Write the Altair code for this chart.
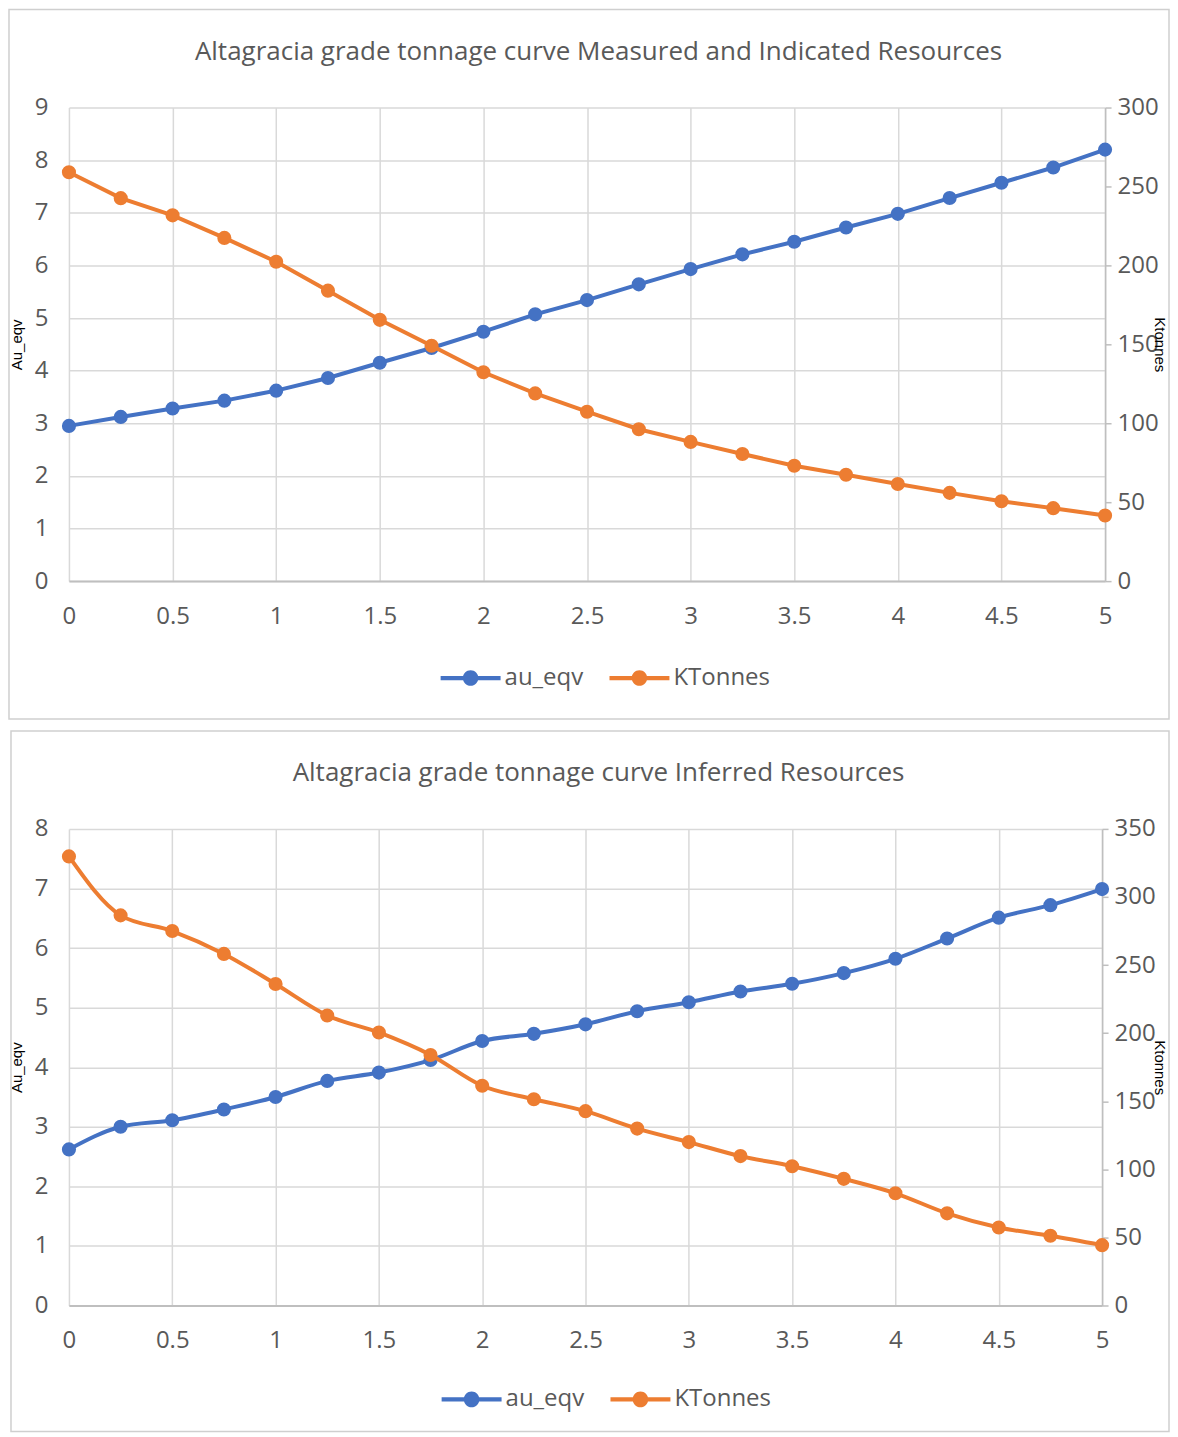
import altair as alt
import pandas as pd

# ---------------- data ----------------
cutoff = [0, 0.25, 0.5, 0.75, 1, 1.25, 1.5, 1.75, 2, 2.25, 2.5,
          2.75, 3, 3.25, 3.5, 3.75, 4, 4.25, 4.5, 4.75, 5]

mi_au = [2.95, 3.12, 3.28, 3.43, 3.62, 3.86, 4.15, 4.43, 4.74, 5.07, 5.34,
         5.64, 5.93, 6.21, 6.45, 6.72, 6.98, 7.28, 7.57, 7.86, 8.20]
mi_kt = [259, 242.6, 231.7, 217.4, 202.3, 184, 165.5, 149.1, 132.3, 118.9, 107.3,
         96.2, 88.2, 80.5, 73.1, 67.4, 61.5, 55.9, 50.6, 46.2, 41.6]

inf_au = [2.62, 3.00, 3.11, 3.29, 3.50, 3.77, 3.91, 4.12, 4.44, 4.56, 4.72,
          4.94, 5.09, 5.27, 5.40, 5.58, 5.82, 6.16, 6.51, 6.72, 6.99]
inf_kt = [329.8, 286.5, 275, 258.2, 236.1, 213, 200.5, 184, 161.4, 151.5, 142.7,
          129.9, 120, 109.7, 102.3, 93, 82.4, 67.7, 57.3, 51.2, 44.3]

x_ticks = [0, 0.5, 1, 1.5, 2, 2.5, 3, 3.5, 4, 4.5, 5]
series_names = ["au_eqv", "KTonnes"]
series_colors = ["#4472C4", "#ED7D31"]

title_top = "Altagracia grade tonnage curve Measured and Indicated Resources"
title_bot = "Altagracia grade tonnage curve Inferred Resources"

FONT = "Open Sans"
GRAY = "#595959"
GRID = "#d9d9d9"
AXISLINE = "#bfbfbf"

LEGEND_PATH = ("M-1,-0.07 L1,-0.07 L1,0.07 L-1,0.07 Z "
               "M-0.26,0 A0.26,0.26 0 1,1 0.26,0 A0.26,0.26 0 1,1 -0.26,0 Z")


def panel(title, au, kt, au_max, kt_max, w, h, interp, pad_l, pad_r, pad_t, pad_b,
          title_dx, legend_x, legend_y):
    df_au = pd.DataFrame({"cutoff": cutoff, "value": au, "series": series_names[0]})
    df_kt = pd.DataFrame({"cutoff": cutoff, "value": kt, "series": series_names[1]})
    one = pd.DataFrame({"k": [0]})

    xenc = alt.X("cutoff:Q", scale=alt.Scale(domain=[0, 5], nice=False),
                 axis=alt.Axis(values=x_ticks, format="~g", title=None,
                               labelFont=FONT, labelFontSize=24, labelColor=GRAY,
                               labelPadding=23, labelFlush=False,
                               ticks=False, tickSize=0,
                               domain=True, domainColor=AXISLINE, domainWidth=2,
                               grid=True, gridColor=GRID, gridWidth=1.5))

    legend = alt.Legend(orient="none", legendX=legend_x, legendY=legend_y,
                        direction="horizontal", title=None,
                        symbolType=LEGEND_PATH, symbolSize=3600,
                        symbolStrokeWidth=0, symbolOpacity=1,
                        labelFont=FONT, labelFontSize=24, labelColor=GRAY,
                        labelOffset=4, columnPadding=26)
    color = alt.Color("series:N",
                      scale=alt.Scale(domain=series_names, range=series_colors),
                      legend=legend)

    ly = alt.Y("value:Q", scale=alt.Scale(domain=[0, au_max], nice=False, zero=True),
               axis=alt.Axis(orient="left", title="Au_eqv", values=list(range(au_max + 1)),
                             labelFont=FONT, labelFontSize=24, labelColor=GRAY,
                             labelPadding=21, ticks=False, tickSize=0, domain=False,
                             grid=True, gridColor=GRID, gridWidth=1.5,
                             titleFont="Liberation Sans", titleFontSize=15,
                             titleFontWeight="normal", titleColor="#000000",
                             titlePadding=10))
    ry = alt.Y("value:Q", scale=alt.Scale(domain=[0, kt_max], nice=False, zero=True),
               axis=alt.Axis(orient="right", title="Ktonnes",
                             values=list(range(0, kt_max + 1, 50)),
                             labelFont=FONT, labelFontSize=24, labelColor=GRAY,
                             labelPadding=6, ticks=True, tickSize=6,
                             tickColor=AXISLINE, tickWidth=1.5,
                             domain=True, domainColor=AXISLINE, domainWidth=1.5,
                             grid=False,
                             titleFont="Liberation Sans", titleFontSize=15,
                             titleFontWeight="normal", titleColor="#000000",
                             titleX=pad_r - 10, titleY=h / 2, titleAngle=90,
                             titleBaseline="middle"))

    left = alt.layer(
        alt.Chart(df_au).mark_line(strokeWidth=4, interpolate=interp,
                                   color=series_colors[0]).encode(x=xenc, y=ly),
        alt.Chart(df_au).mark_point(filled=True, size=200, opacity=1).encode(
            x=xenc, y=ly, color=color),
    )
    right = alt.layer(
        alt.Chart(df_kt).mark_line(strokeWidth=4, interpolate=interp,
                                   color=series_colors[1]).encode(x=xenc, y=ry),
        alt.Chart(df_kt).mark_point(filled=True, size=200, opacity=1).encode(
            x=xenc, y=ry, color=color),
    )

    frame = alt.Chart(one).mark_rect(fillOpacity=0, fill="#ffffff", stroke="#cfcfcf",
                                     strokeWidth=1.5).encode(
        x=alt.value(-pad_l), x2=alt.value(w + pad_r),
        y=alt.value(-pad_t), y2=alt.value(h + pad_b))

    ttl = alt.Chart(one).mark_text(font=FONT, fontSize=26, color=GRAY,
                                   align="center", baseline="middle").encode(
        x=alt.value(title_dx), y=alt.value(-56), text=alt.value(title))

    return alt.layer(frame, left, right, ttl).resolve_scale(y="independent").properties(
        width=w, height=h)


top = panel(title_top, mi_au, mi_kt, 9, 300, 1037, 474, "linear",
            60, 64, 98, 138, 530, 372, 541)
bot = panel(title_bot, inf_au, inf_kt, 8, 350, 1034, 477, "monotone",
            58, 67, 98, 126, 530, 373, 541)

chart = (alt.vconcat(top, bot, spacing=10)
         .resolve_scale(color="independent")
         .resolve_legend(color="independent")
         .properties(padding=0)
         .configure_view(strokeWidth=0))

chart.save("out.html", embed_options={"renderer": "svg", "actions": False})
